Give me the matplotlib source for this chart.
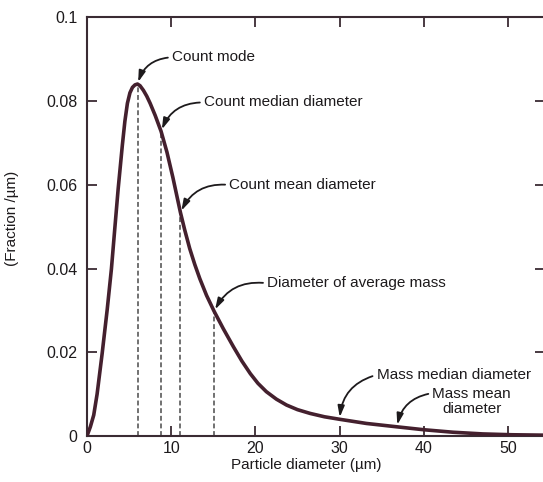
import matplotlib
matplotlib.use("Agg")
import matplotlib.pyplot as plt

# Particle size distribution (number fraction per micrometre)
diameter_um = [0.0, 0.4, 0.8, 1.2, 1.8, 2.4, 2.9, 3.3, 3.7, 4.2, 4.5, 4.8,
               5.1, 5.4, 5.7, 6.0, 6.3, 6.7, 7.1, 7.5, 8.1, 8.8, 9.5, 10.2,
               11.1, 11.6, 12.2, 12.8, 13.4, 14.2, 15.1, 16.2, 17.4, 18.4,
               19.4, 20.3, 21.3, 22.5, 23.7, 25.0, 26.5, 28.2, 30.0, 33.2,
               36.8, 40.0, 43.5, 47.0, 50.5, 54.4]
fraction_per_um = [0.0, 0.0022, 0.0050, 0.0100, 0.0197, 0.0302, 0.0399,
                   0.0495, 0.0590, 0.0695, 0.0752, 0.0795, 0.0820, 0.0833,
                   0.0839, 0.0841, 0.0837, 0.0826, 0.0812, 0.0795, 0.0766,
                   0.0728, 0.0678, 0.0618, 0.0534, 0.0493, 0.0448, 0.0410,
                   0.0376, 0.0336, 0.0298, 0.0256, 0.0213, 0.0179, 0.0149,
                   0.0126, 0.0106, 0.0088, 0.0074, 0.0063, 0.0054, 0.0046,
                   0.0040, 0.0030, 0.0022, 0.0015, 0.0009, 0.0005, 0.0003,
                   0.0002]

# Characteristic diameters marked on the curve
marker_labels = ["Count mode", "Count median diameter", "Count mean diameter",
                 "Diameter of average mass", "Mass median diameter",
                 "Mass mean\ndiameter"]
marker_d = [6.0, 8.8, 11.1, 15.1, 30.0, 36.8]
marker_f = [0.0841, 0.0728, 0.0534, 0.0298, 0.0040, 0.0022]
dashed_count = 4  # the first four get a drop line to the axis

# Label anchor points (data coordinates)
label_x = [10.1, 13.9, 16.9, 21.4, 34.4, 45.7]
label_y = [0.0905, 0.0797, 0.0600, 0.0365, 0.0146, 0.0083]

x_ticks = [0, 10, 20, 30, 40, 50]
y_ticks = [0, 0.02, 0.04, 0.06, 0.08, 0.1]
y_tick_labels = ["0", "0.02", "0.04", "0.06", "0.08", "0.1"]

plt.rcParams["font.family"] = ["Liberation Sans", "DejaVu Sans"]

ink = "#1d1a1c"
frame = "#3a2b33"
curve_col = "#44202e"

fig = plt.figure(figsize=(5.43, 4.82), dpi=100)
ax = fig.add_axes([0.1602, 0.0954, 0.8435, 0.8683])

ax.plot(diameter_um, fraction_per_um, color=curve_col, lw=2.6,
        solid_joinstyle="round", solid_capstyle="round", zorder=3)

for d, f in zip(marker_d[:dashed_count], marker_f[:dashed_count]):
    ax.plot([d, d], [0, f], color="#4a4a4a", lw=1.1,
            dashes=(3.2, 1.8), zorder=2)

for i, (txt, d, f) in enumerate(zip(marker_labels, marker_d, marker_f)):
    multiline = "\n" in txt
    ax.annotate(
        txt, xy=(d, f), xytext=(label_x[i], label_y[i]),
        xycoords="data", textcoords="data",
        ha="center" if multiline else "left", va="center",
        fontsize=11, color=ink, linespacing=1.1,
        arrowprops=dict(arrowstyle="-|>,head_length=0.6,head_width=0.18",
                        connectionstyle="arc3,rad=0.35",
                        color=ink, lw=1.3,
                        relpos=(0.0, 0.78) if multiline else (0.0, 0.5),
                        shrinkA=1, shrinkB=1.5),
        zorder=4)

ax.set_xlim(0, 54.4)
ax.set_ylim(0, 0.1)
ax.set_xticks(x_ticks)
ax.set_yticks(y_ticks)
ax.set_yticklabels(y_tick_labels)

for s in ax.spines.values():
    s.set_color(frame)
    s.set_linewidth(1.5)

ax.tick_params(direction="in", length=7, width=1.3, color=frame,
               top=True, right=True, labelsize=11.5, labelcolor=ink)
ax.tick_params(axis="y", pad=7)
ax.tick_params(axis="x", pad=3.5)

ax.set_xlabel("Particle diameter (\u00b5m)", fontsize=11, color=ink)
ax.xaxis.label.set_verticalalignment("center")
ax.xaxis.set_label_coords(0.478, -0.069)
ax.set_ylabel("(Fraction /\u00b5m)", fontsize=11, color=ink)
ax.yaxis.label.set_verticalalignment("center")
ax.yaxis.set_label_coords(-0.164, 0.52)

fig.savefig("out.png", dpi=100, facecolor="white")
